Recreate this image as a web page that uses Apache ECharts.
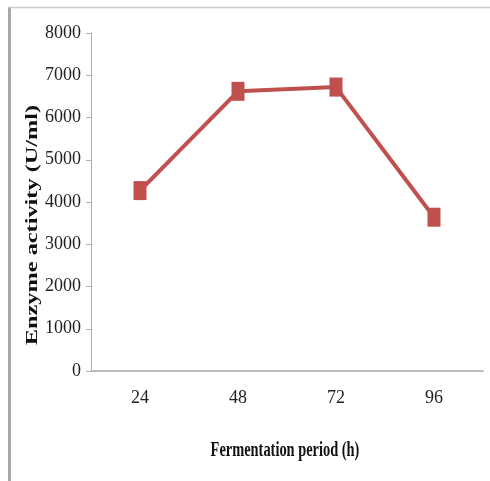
<!DOCTYPE html>
<html>
<head>
<meta charset="utf-8">
<script src="https://cdn.jsdelivr.net/npm/echarts@6/dist/echarts.min.js"></script>
<style>
html,body{margin:0;padding:0;background:#fff;}
#chart{width:490px;height:481px;}
</style>
</head>
<body>
<div id="chart"></div>
<script>
const categories = ['24', '48', '72', '96'];
const enzymeActivity = [4270, 6620, 6720, 3640];
const yTicks = [0, 1000, 2000, 3000, 4000, 5000, 6000, 7000, 8000];
const xTitle = 'Fermentation period (h)';
const yTitle = 'Enzyme activity (U/ml)';

const chart = echarts.init(document.getElementById('chart'));
const font = '"Liberation Serif", "Times New Roman", serif';
chart.setOption({
  animation: false,
  backgroundColor: '#ffffff',
  grid: { left: 91, right: 7, top: 33, bottom: 110 },
  xAxis: {
    type: 'category',
    data: categories,
    boundaryGap: true,
    axisLine: { lineStyle: { color: '#a8a8a8', width: 1.5 } },
    axisTick: { show: false },
    axisLabel: { color: '#222', fontFamily: font, fontSize: 18, margin: 18 }
  },
  yAxis: {
    type: 'value',
    min: yTicks[0],
    max: yTicks[yTicks.length - 1],
    interval: 1000,
    axisLine: { show: true, lineStyle: { color: '#b0b0b0', width: 1 } },
    axisTick: { show: true, inside: false, length: 5, lineStyle: { color: '#b0b0b0' } },
    splitLine: { show: false },
    axisLabel: { color: '#222', fontFamily: font, fontSize: 18, margin: 10, formatter: function (v) { return String(v); } }
  },
  series: [{
    type: 'line',
    data: enzymeActivity,
    symbol: 'rect',
    symbolSize: [13, 19],
    lineStyle: { color: '#C0504D', width: 4 },
    itemStyle: { color: '#C0504D' }
  }],
  graphic: [
    { type: 'line', shape: { x1: 9.5, y1: 7, x2: 9.5, y2: 481 }, style: { stroke: '#a8a8a8', lineWidth: 3 } },
    { type: 'line', shape: { x1: 9, y1: 7.5, x2: 490, y2: 7.5 }, style: { stroke: '#cccccc', lineWidth: 1.5 } },
    {
      type: 'text', x: 285, y: 450, scaleX: 0.9, scaleY: 1.35,
      style: { text: xTitle, font: 'bold 16px ' + font, fill: '#111', align: 'center', verticalAlign: 'middle' }
    },
    {
      type: 'text', x: 33, y: 225, rotation: Math.PI / 2, scaleX: 1.43, scaleY: 1,
      style: { text: yTitle, font: 'bold 17px ' + font, fill: '#111', align: 'center', verticalAlign: 'middle' }
    }
  ]
});
</script>
</body>
</html>
